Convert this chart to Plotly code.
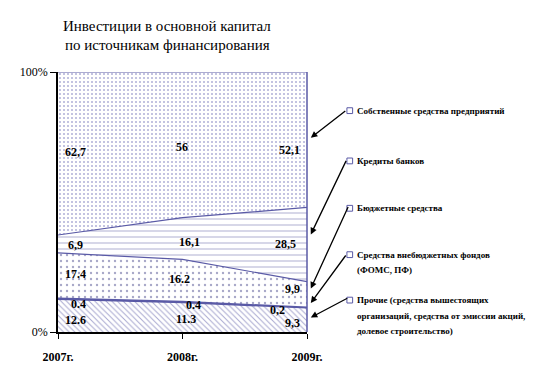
import plotly.graph_objects as go

# ---------------- data ----------------
years = ["2007г.", "2008г.", "2009г."]

other = [12.6, 11.3, 9.3]      # Прочие
funds = [0.4, 0.4, 0.2]        # Средства внебюджетных фондов
budget = [17.4, 16.2, 9.9]     # Бюджетные средства
credit = [6.9, 16.1, 28.5]     # Кредиты банков
own = [62.7, 56.0, 52.1]       # Собственные средства предприятий

other_lbl = ["12.6", "11.3", "9,3"]
funds_lbl = ["0.4", "0.4", "0,2"]
budget_lbl = ["17.4", "16.2", "9,9"]
credit_lbl = ["6,9", "16,1", "28,5"]
own_lbl = ["62,7", "56", "52,1"]

name_other = "Прочие (средства вышестоящих организаций, средства от эмиссии акций, долевое строительство)"
name_funds = "Средства внебюджетных фондов (ФОМС, ПФ)"
name_budget = "Бюджетные средства"
name_credit = "Кредиты банков"
name_own = "Собственные средства предприятий"

legend_lines = {
    name_own: ["Собственные средства предприятий"],
    name_credit: ["Кредиты банков"],
    name_budget: ["Бюджетные средства"],
    name_funds: ["Средства внебюджетных фондов", "(ФОМС, ПФ)"],
    name_other: ["Прочие (средства вышестоящих", "организаций, средства от эмиссии акций,",
                 "долевое строительство)"],
}

y_ticks = [0, 100]
y_ticktext = ["0%", "100%"]
title_lines = ["Инвестиции в основной капитал", "по источникам финансирования"]

# ---------------- style ----------------
W, H = 538, 368
L, R, T, B = 37, 299, 64, 333
SLATE = "#5a5aa6"
SERIF = "Liberation Serif"

def px(x):
    return (x - L) / (R - L)

def py(y):
    return (B - y) / (B - T)

def bold(s):
    return "<b>" + s + "</b>"

xs = list(range(len(years)))

series = [
    (name_other, other, other_lbl, dict(shape="\\", size=4, solidity=0.25, fgcolor="#5050a0"), 1.5),
    (name_funds, funds, funds_lbl, None, 1.5),
    (name_budget, budget, budget_lbl, dict(shape=".", size=6, solidity=0.12, fgcolor="#505090"), 1.2),
    (name_credit, credit, credit_lbl, dict(shape="-", size=6, solidity=0.18, fgcolor="#6a6aaa"), 1.2),
    (name_own, own, own_lbl, dict(shape=".", size=4, solidity=0.2, fgcolor="#6060b0"), 1.0),
]

fig = go.Figure()
for name, vals, _, pat, lw in series:
    kw = dict(x=xs, y=vals, mode="lines", stackgroup="one",
              line=dict(color=SLATE, width=lw), hoverinfo="skip", showlegend=False)
    if pat is None:
        kw["fillcolor"] = SLATE
    else:
        kw["fillpattern"] = pat
        kw["fillcolor"] = "white"
    fig.add_trace(go.Scatter(**kw))

annotations = []

# value labels at band midpoints
xshift_by_year = [17, 3, -18]
yshift_adj = {
    name_other: [-4, -2, -3],
    name_funds: [-5, -3, -2],
    name_budget: [2, 2, 5],
    name_credit: [-1, -3, 1],
    name_own: [2, -2, -10],
}
xshift_adj = {
    name_other: [0, 0, 3],
    name_funds: [3, 8, -12],
    name_budget: [0, -6, 3],
    name_credit: [0, 4, -4],
    name_own: [0, -4, 0],
}
cum = [0.0] * len(years)
for name, vals, lbls, _, _ in series:
    for i in xs:
        mid = cum[i] + vals[i] / 2
        annotations.append(dict(
            x=i, y=mid, xref="x", yref="y", text=bold(lbls[i]), showarrow=False,
            xshift=xshift_by_year[i] + xshift_adj[name][i], yshift=yshift_adj[name][i],
            font=dict(family=SERIF, size=12, color="black")))
    cum = [c + v for c, v in zip(cum, vals)]

# title
for k, line in enumerate(title_lines):
    annotations.append(dict(x=px(152), y=py(16 + k * 20), xref="paper", yref="paper",
                            text=line, showarrow=False, xanchor="center", yanchor="middle",
                            font=dict(family=SERIF, size=15, color="black")))

# legend (custom) with arrows
legend_pos = {
    name_own: 104,
    name_credit: 156,
    name_budget: 205,
    name_funds: 253,
    name_other: 300,
}
arrows = {
    name_own: ((339, 104), (303, 132)),
    name_credit: ((339, 157), (303, 232)),
    name_budget: ((341, 205), (303, 288)),
    name_funds: ((339, 254), (303, 303)),
    name_other: ((341, 298), (303, 318)),
}
shapes = []
for name, yc in legend_pos.items():
    shapes.append(dict(type="rect", xref="paper", yref="paper",
                       x0=px(341), x1=px(347), y0=py(yc + 3), y1=py(yc - 3),
                       line=dict(color=SLATE, width=1), fillcolor="white"))
    for j, line in enumerate(legend_lines[name]):
        annotations.append(dict(x=px(349), y=py(yc + j * 16), xref="paper", yref="paper",
                                text=bold(line), showarrow=False, xanchor="left", yanchor="middle",
                                font=dict(family=SERIF, size=9, color="black")))
    (sx, sy), (tx, ty) = arrows[name]
    annotations.append(dict(x=px(tx), y=py(ty), xref="paper", yref="paper", text="",
                            showarrow=True, ax=sx - tx, ay=sy - ty, arrowhead=2,
                            arrowsize=1, arrowwidth=1.3, arrowcolor="black"))

# right border of plot
shapes.append(dict(type="line", xref="paper", yref="paper", x0=1, x1=1, y0=0, y1=1,
                   line=dict(color=SLATE, width=1.5)))

fig.update_layout(
    width=W, height=H, autosize=False,
    margin=dict(l=L, r=W - R, t=T, b=H - B, pad=0),
    paper_bgcolor="white", plot_bgcolor="white",
    showlegend=False,
    font=dict(family=SERIF),
    annotations=annotations, shapes=shapes,
    xaxis=dict(range=[0, len(years) - 1], tickvals=xs, ticktext=[bold(y) for y in years],
               showgrid=False, zeroline=False, showline=True, linecolor="black", linewidth=1.5,
               ticks="outside", ticklen=5, tickcolor="black", ticklabelstandoff=8,
               tickfont=dict(family=SERIF, size=12, color="black")),
    yaxis=dict(range=[0, 100], tickvals=y_ticks, ticktext=y_ticktext,
               showgrid=False, zeroline=False, showline=True, linecolor="black", linewidth=1.5,
               ticks="outside", ticklen=6, tickcolor="black",
               tickfont=dict(family=SERIF, size=12, color="black")),
)

fig.write_html("out.html")
